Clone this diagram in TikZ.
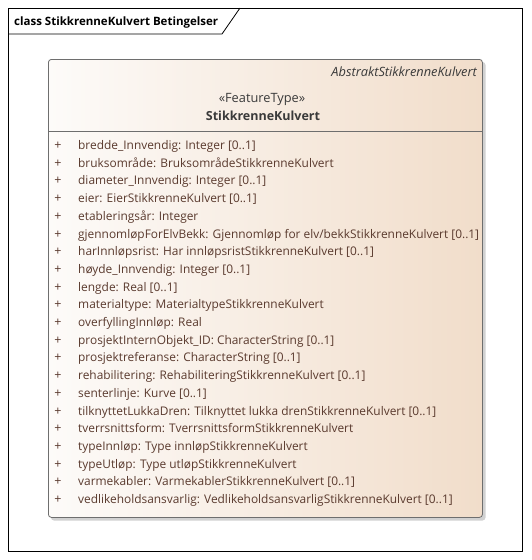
\documentclass[tikz,border=0pt]{standalone}
\usepackage{fontspec}
\setmainfont{Open Sans}
\definecolor{boxleft}{HTML}{FDFBF9}
\definecolor{boxright}{HTML}{F1DDCA}
\definecolor{attrtext}{HTML}{5A3A2E}
\definecolor{headtext}{HTML}{3A3A3A}
\definecolor{boxline}{HTML}{6E6E6E}
\begin{document}
\begin{tikzpicture}[x=1pt,y=-1pt,
  attr/.style={anchor=base west,inner sep=0pt,text=attrtext,font=\fontsize{11.9}{14}\selectfont},
  plus/.style={anchor=base,inner sep=0pt,text=attrtext,font=\fontsize{12.5}{14}\selectfont}]
\useasboundingbox (0,0) rectangle (531,560);
\fill[white] (0,0) rectangle (531,560);
% frame
\node[draw=black,line width=0.8pt,minimum width=514pt,minimum height=543pt,anchor=north west,inner sep=0pt] (frame) at (8,8) {};
\coordinate (tabL) at (8,34);
\coordinate (tabB) at (222,34);
\coordinate (tabT) at (240,8);
\draw[line width=0.8pt] (tabL) -- (tabB) -- (tabT);
\node[anchor=base west,inner sep=0pt,font=\fontsize{11.5}{13}\selectfont\bfseries] (title) at (14,25.5) {class StikkrenneKulvert Betingelser};
% shadow
\fill[black!18,rounded corners=3pt] (51,62) rectangle (485.5,520.5);
% class box
\node[draw=boxline,line width=0.8pt,rounded corners=3pt,left color=boxleft,right color=boxright,minimum width=434pt,minimum height=458pt,anchor=north west,inner sep=0pt] (cls) at (48,59) {};
\coordinate (divL) at (48,131.5);
\coordinate (divR) at (482,131.5);
\draw[boxline,line width=0.8pt] (divL) -- (divR);
\node[anchor=base east,inner sep=0pt,text=headtext,font=\fontsize{12.8}{14}\selectfont\itshape] (abs) at (477,76) {AbstraktStikkrenneKulvert};
\node[anchor=base,inner sep=0pt,text=headtext,font=\fontsize{12.8}{14}\selectfont] (stereo) at (262,102.5) {«FeatureType»};
\node[anchor=base,inner sep=0pt,text=headtext,font=\fontsize{12.5}{14}\selectfont\bfseries] (name) at (263,120.5) {StikkrenneKulvert};
% attributes
\foreach \t [count=\i] in {
 {bredde\_Innvendig: Integer [0..1]},
 {bruksområde: BruksområdeStikkrenneKulvert},
 {diameter\_Innvendig: Integer [0..1]},
 {eier: EierStikkrenneKulvert [0..1]},
 {etableringsår: Integer},
 {gjennomløpForElvBekk: Gjennomløp for elv/bekkStikkrenneKulvert [0..1]},
 {harInnløpsrist: Har innløpsristStikkrenneKulvert [0..1]},
 {høyde\_Innvendig: Integer [0..1]},
 {lengde: Real [0..1]},
 {materialtype: MaterialtypeStikkrenneKulvert},
 {overfyllingInnløp: Real},
 {prosjektInternObjekt\_ID: CharacterString [0..1]},
 {prosjektreferanse: CharacterString [0..1]},
 {rehabilitering: RehabiliteringStikkrenneKulvert [0..1]},
 {senterlinje: Kurve [0..1]},
 {tilknyttetLukkaDren: Tilknyttet lukka drenStikkrenneKulvert [0..1]},
 {tverrsnittsform: TverrsnittsformStikkrenneKulvert},
 {typeInnløp: Type innløpStikkrenneKulvert},
 {typeUtløp: Type utløpStikkrenneKulvert},
 {varmekabler: VarmekablerStikkrenneKulvert [0..1]},
 {vedlikeholdsansvarlig: VedlikeholdsansvarligStikkrenneKulvert [0..1]}}
{
  \pgfmathsetmacro{\yy}{149.5+17.7*(\i-1)}
  \node[plus] (p\i) at (58,\yy) {+};
  \node[attr] (a\i) at (78,\yy) {\t};
}
\end{tikzpicture}
\end{document}
